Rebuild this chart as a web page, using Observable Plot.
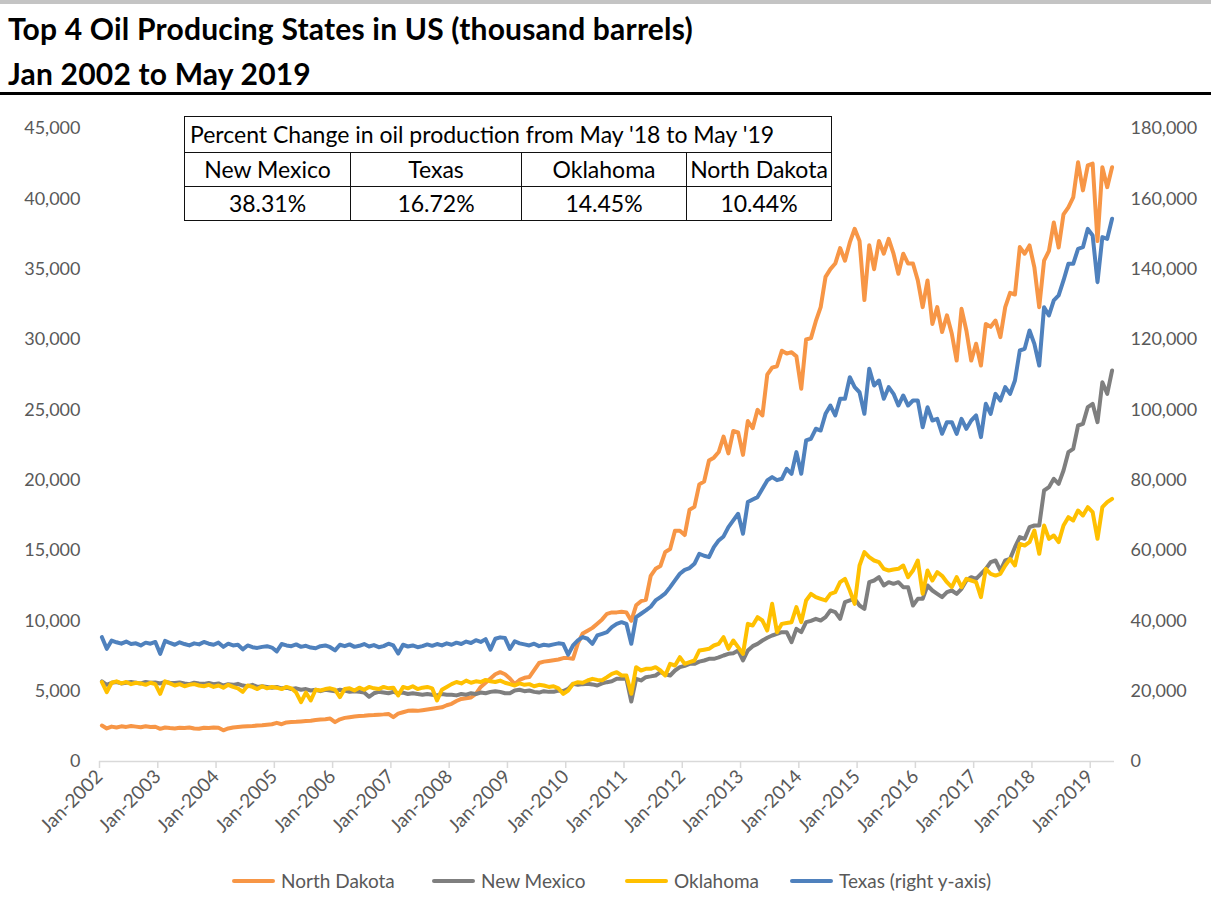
<!DOCTYPE html>
<html>
<head>
<meta charset="utf-8">
<script src="https://cdn.jsdelivr.net/npm/d3@7"></script>
<script src="https://cdn.jsdelivr.net/npm/@observablehq/plot@0.6"></script>
<style>
  html, body { margin: 0; padding: 0; background: #fff; }
  #wrap { position: relative; width: 1211px; height: 901px; overflow: hidden; font-family: Lato, "Open Sans", sans-serif; }
  .topbar { position: absolute; left: 0; top: 0; width: 1211px; height: 4px; background: #c4c4c4; }
  .t1, .t2 { position: absolute; left: 8px; font-weight: bold; font-size: 30px; line-height: 36px; color: #000; white-space: nowrap; letter-spacing: 0.2px; }
  .t1 { top: 10px; }
  .t2 { top: 55px; }
  .rule { position: absolute; left: 0; top: 92px; width: 1211px; height: 3px; background: #000; }
  #chart { position: absolute; left: 0; top: 100px; }
  #pct { position: absolute; left: 184px; top: 116px; border-collapse: collapse; table-layout: fixed; width: 647px; font-size: 23px; color: #000; background: #fff; }
  #pct td { border: 1.5px solid #111; padding: 0; text-align: center; height: 33px; line-height: 33px; white-space: nowrap; overflow: visible; }
  #pct td.head { text-align: left; padding-left: 5px; }
  .lg { position: absolute; top: 869px; display: flex; align-items: center; font-size: 19px; color: #595959; white-space: nowrap; }
  .lg .sw { width: 43px; height: 4px; border-radius: 2px; margin-right: 6px; }
</style>
</head>
<body>
<div id="wrap">
  <div class="topbar"></div>
  <div class="t1" id="title1"></div>
  <div class="t2" id="title2"></div>
  <div class="rule"></div>
  <div id="chart"></div>
  <table id="pct"></table>
</div>
<script>
// ---------- Text ----------
const titleLine1 = "Top 4 Oil Producing States in US (thousand barrels)";
const titleLine2 = "Jan 2002 to May 2019";

// ---------- Table (percent change May '18 to May '19) ----------
const tableTitle = "Percent Change in oil production from May '18 to May '19";
const tableStates = ["New Mexico", "Texas", "Oklahoma", "North Dakota"];
const tablePercents = ["38.31%", "16.72%", "14.45%", "10.44%"];

// ---------- Axes ----------
const xTickIndex = [0, 12, 24, 36, 48, 60, 72, 84, 96, 108, 120, 132, 144, 156, 168, 180, 192, 204];
const xTickLabels = ["Jan-2002","Jan-2003","Jan-2004","Jan-2005","Jan-2006","Jan-2007","Jan-2008","Jan-2009","Jan-2010",
                     "Jan-2011","Jan-2012","Jan-2013","Jan-2014","Jan-2015","Jan-2016","Jan-2017","Jan-2018","Jan-2019"];
const leftTicks = [0, 5000, 10000, 15000, 20000, 25000, 30000, 35000, 40000, 45000];
const rightTicks = [0, 20000, 40000, 60000, 80000, 100000, 120000, 140000, 160000, 180000];
const monthCount = 209; // Jan 2002 .. May 2019

// ---------- Series (monthly, thousand barrels) Jan 2002 .. May 2019 ----------
const northDakota = [
  2560,2350,2480,2420,2500,2460,2520,2480,2430,2500,2450,2470,
  2320,2420,2380,2350,2400,2380,2420,2350,2330,2400,2380,2420,
  2400,2220,2350,2420,2450,2480,2500,2520,2560,2580,2620,2650,
  2750,2650,2780,2800,2820,2850,2880,2900,2950,2980,3000,3050,
  2800,3000,3100,3150,3200,3230,3250,3280,3300,3330,3350,3380,
  3150,3400,3500,3600,3620,3600,3650,3700,3750,3800,3850,4000,
  4100,4300,4450,4500,4550,4800,5300,5600,5900,6200,6350,6200,
  5900,5500,5800,5950,6000,6500,7000,7100,7150,7200,7250,7350,
  7350,7300,8400,9100,9300,9500,9800,10100,10500,10600,10600,10650,
  10600,10000,11100,11400,11500,13200,13700,13900,14900,15100,16400,16400,
  16100,17900,18100,19700,19900,21400,21600,22000,23100,21900,23500,23400,
  21800,24200,23700,25000,24600,27500,28000,28100,29200,29000,29100,28800,
  26500,30000,30100,31300,32300,34450,35000,35400,36500,35600,36900,37870,
  37000,32800,36700,35000,37000,36100,37150,36100,34670,36100,35400,35400,
  34200,32300,34200,31100,32300,30530,31720,30410,28500,32180,30640,28500,
  29700,28150,31100,30900,31350,30170,32300,33320,33200,36570,36100,36690,
  35130,32300,35600,36300,38320,36540,38900,39400,40100,42600,40600,42370,
  42500,37000,42250,40830,42250
];
const newMexico = [
  5700,5450,5600,5650,5550,5600,5650,5600,5550,5650,5600,5620,
  5550,5650,5600,5580,5620,5550,5500,5600,5550,5520,5580,5500,
  5550,5400,5500,5450,5520,5400,5350,5450,5300,5350,5300,5250,
  5300,5200,5250,5150,5200,5100,5150,5050,5100,5000,5100,5050,
  5000,5100,5050,4950,5000,4950,4900,4600,4850,4950,4900,4850,
  4950,4850,4900,4800,4850,4800,4750,4800,4750,4700,4800,4750,
  4750,4700,4800,4750,4850,4800,4900,4850,4950,5000,4950,4850,
  4850,5050,5100,5000,5050,4950,4900,5000,4950,4950,5050,5000,
  5166,5520,5450,5500,5521,5480,5403,5550,5640,5700,5877,5877,
  5877,4261,5877,5760,5995,6050,6114,6350,6200,6114,6469,6706,
  6800,6943,6943,7100,7180,7299,7299,7400,7536,7654,7700,7891,
  7180,7891,8200,8365,8602,8800,8957,9075,9194,9194,8483,9431,
  9200,9905,10000,10141,10025,10262,10736,10617,10143,11328,11447,11565,
  11091,10854,12749,12867,13104,12512,12749,12630,12749,12393,12393,11091,
  11565,11565,12512,12156,11920,11683,12038,12156,11920,12275,12867,13104,
  12985,13341,13697,14171,14290,13578,14290,14408,15237,15948,15830,16659,
  16778,16778,19266,19503,20096,19740,20688,21991,22228,23887,24005,25190,
  25427,24124,26967,26137,27796
];
const oklahoma = [
  5640,4930,5600,5700,5550,5650,5500,5600,5550,5450,5600,5500,
  4811,5700,5550,5400,5500,5350,5450,5500,5400,5350,5450,5300,
  5400,5250,5450,5300,5200,4950,5400,5300,5150,5350,5200,5300,
  5250,5150,5300,5200,4900,4218,4900,4337,5100,5050,5150,5200,
  5100,4574,5150,5200,5050,5250,5100,5300,5200,5150,5300,5200,
  5250,4692,5300,5200,5350,5150,5250,5300,5200,4337,5100,5300,
  5500,5650,5550,5750,5600,5700,5650,5800,5700,5650,5750,5600,
  5500,5400,5550,5450,5500,5350,5450,5400,5300,5350,5200,4811,
  5047,5521,5640,5600,5758,5877,5800,5780,5995,6232,6350,6114,
  6114,4811,6706,6469,6587,6587,6706,6469,6114,6943,6824,7417,
  6943,7061,7180,7891,7950,8010,8246,8365,8838,8010,8602,8128,
  7654,9786,9668,10260,10023,9312,11208,9194,9786,9850,9905,10971,
  9905,11445,11919,11682,11565,11447,11920,12038,12749,12985,12156,11210,
  13934,14882,14527,14290,14171,13697,13578,13650,13700,13934,13104,13578,
  14290,11920,13578,12867,13460,13200,12749,12393,13104,12393,12985,12867,
  12749,11683,13697,13341,13220,13341,13934,14408,13934,15474,15356,15593,
  16422,14764,16778,15830,16067,15593,16778,17370,17133,17844,17489,18081,
  17726,15830,18081,18437,18674
];
const texas = [
  35360,32040,34400,33900,33500,34100,33400,33600,33000,33800,33500,34000,
  30620,34300,33700,33200,33900,33400,33000,33600,33300,34000,33500,33200,
  33800,32600,33500,33000,33200,31900,33000,32500,32300,32600,32800,32400,
  31300,33400,33000,32800,33300,32600,32900,32400,32200,32800,33000,32500,
  31600,33200,32800,33300,32600,32900,33400,32700,33100,32500,32800,33500,
  33000,30700,33200,32700,33000,32500,32800,33300,32900,33400,33000,33600,
  33200,33800,33400,34100,33700,34500,34000,34800,31800,34900,35300,35100,
  32000,34200,33600,33300,33000,33500,32800,33200,33000,33300,33600,33400,
  30400,33000,34420,35370,34900,33470,35840,36320,36800,38210,39160,39630,
  39160,33470,41060,42010,42960,44000,45800,46750,47800,49590,51490,53380,
  54500,55000,56230,59070,58500,58120,60970,62860,64000,66650,68550,70450,
  64760,73760,74500,75180,77550,79920,80870,80000,80400,83240,81820,87980,
  81820,91300,91780,94620,94120,98860,101230,98390,103130,103130,109290,106440,
  105000,98860,111660,106920,108340,103130,106440,104550,101230,104080,101230,102650,
  102650,95070,100760,96970,97440,93180,96500,96500,93180,97440,94600,96970,
  98390,92230,101710,98860,104550,102650,106440,104550,108340,116870,117340,122560,
  118770,112610,129200,126830,131100,132520,136780,141520,141520,145790,146260,151470,
  149580,136310,149110,148630,154320
];

const seriesNames = ["North Dakota", "New Mexico", "Oklahoma", "Texas (right y-axis)"];
const seriesColors = ["#f79646", "#7f7f7f", "#ffc000", "#4f81bd"];
const seriesValues = [northDakota, newMexico, oklahoma, texas];
const seriesAxisRatio = [1, 1, 1, 4]; // Texas plotted against right axis (4x left)
const legendLeft = [232, 432, 625, 790];

// ---------- Titles ----------
document.getElementById("title1").textContent = titleLine1;
document.getElementById("title2").textContent = titleLine2;

// ---------- Chart ----------
const months = d3.range(monthCount);
const fmt = d3.format(",");

const lineMarks = seriesValues.map((vals, k) =>
  Plot.line(months, {
    x: i => i + 0.5,
    y: i => vals[i] / seriesAxisRatio[k],
    stroke: seriesColors[k],
    strokeWidth: 4,
    strokeLinejoin: "round",
    strokeLinecap: "round"
  })
);

const chart = Plot.plot({
  width: 1211,
  height: 760,
  marginTop: 28,
  marginBottom: 99,
  marginLeft: 99,
  marginRight: 97,
  style: { fontFamily: "Lato, 'Open Sans', sans-serif", background: "#fff", overflow: "visible" },
  x: { type: "linear", domain: [0, monthCount], axis: null },
  y: { domain: [0, 45000], axis: null },
  marks: [
    Plot.ruleY([0], { stroke: "#d9d9d9", strokeWidth: 1.5 }),
    Plot.axisX({ ticks: xTickIndex, tickSize: 7, tickFormat: () => "", stroke: "#d9d9d9", strokeWidth: 1.5 }),
    Plot.axisX({
      ticks: xTickIndex,
      tickSize: 0,
      tickPadding: 12,
      tickRotate: -45,
      tickFormat: d => xTickLabels[xTickIndex.indexOf(d)],
      fill: "#595959",
      fontSize: 19
    }),
    Plot.axisY({ anchor: "left", ticks: leftTicks, tickSize: 0, tickPadding: 19, tickFormat: fmt, fill: "#595959", fontSize: 18 }),
    Plot.axisY({
      anchor: "right",
      ticks: leftTicks,
      tickSize: 0,
      tickPadding: 16,
      tickFormat: d => fmt(rightTicks[leftTicks.indexOf(d)]),
      fill: "#595959",
      fontSize: 18
    }),
    ...lineMarks
  ]
});
document.getElementById("chart").appendChild(chart);

// ---------- Table ----------
const table = document.getElementById("pct");
const colWidths = [166, 171, 165, 145];
{
  const colgroup = document.createElement("colgroup");
  colWidths.forEach(w => { const c = document.createElement("col"); c.style.width = w + "px"; colgroup.appendChild(c); });
  table.appendChild(colgroup);
  const tr0 = document.createElement("tr");
  const th = document.createElement("td");
  th.colSpan = 4; th.className = "head"; th.textContent = tableTitle;
  th.style.height = "35px"; th.style.lineHeight = "35px";
  tr0.appendChild(th); table.appendChild(tr0);
  const tr1 = document.createElement("tr");
  tableStates.forEach(s => { const td = document.createElement("td"); td.textContent = s; tr1.appendChild(td); });
  table.appendChild(tr1);
  const tr2 = document.createElement("tr");
  tablePercents.forEach(p => { const td = document.createElement("td"); td.textContent = p; tr2.appendChild(td); });
  table.appendChild(tr2);
}

// ---------- Legend ----------
const wrap = document.getElementById("wrap");
seriesNames.forEach((name, k) => {
  const item = document.createElement("div"); item.className = "lg"; item.style.left = legendLeft[k] + "px";
  const sw = document.createElement("div"); sw.className = "sw"; sw.style.background = seriesColors[k];
  const lb = document.createElement("span"); lb.textContent = name;
  item.appendChild(sw); item.appendChild(lb); wrap.appendChild(item);
});
</script>
</body>
</html>
